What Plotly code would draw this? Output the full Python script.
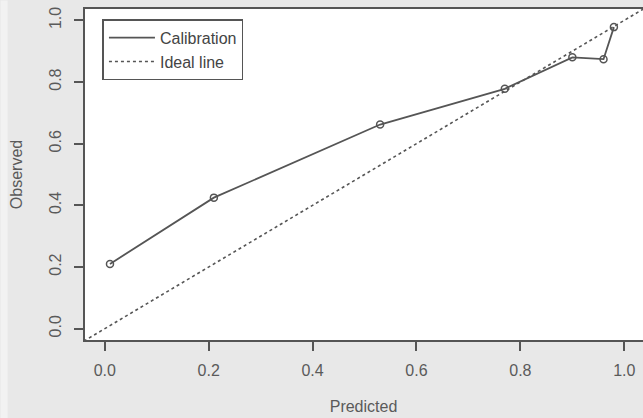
import plotly.graph_objects as go

# Calibration curve: mean predicted probability vs observed frequency per bin
predicted = [0.01, 0.21, 0.53, 0.77, 0.90, 0.96, 0.98]
observed = [0.21, 0.425, 0.662, 0.778, 0.88, 0.874, 0.978]

# Ideal (perfect calibration) line y = x, extended past the axis limits
ideal = [-0.1, 1.1]

tick_vals = [0.0, 0.2, 0.4, 0.6, 0.8, 1.0]
tick_text = ["0.0", "0.2", "0.4", "0.6", "0.8", "1.0"]

ink = "#555555"
font_family = "Liberation Sans, Arial, sans-serif"

fig = go.Figure()

fig.add_trace(go.Scatter(
    x=ideal, y=ideal, mode="lines", name="Ideal line",
    line=dict(color=ink, width=1.6, dash="dot"),
))
fig.add_trace(go.Scatter(
    x=predicted, y=observed, mode="lines", name="Calibration",
    line=dict(color=ink, width=1.8),
))
fig.add_trace(go.Scatter(
    x=predicted, y=observed, mode="markers", showlegend=False,
    marker=dict(symbol="circle-open", size=7, color=ink, line=dict(width=1.5, color=ink)),
))

axis_common = dict(
    tickvals=tick_vals, ticktext=tick_text,
    ticks="outside", ticklen=9, tickwidth=1.5, tickcolor=ink,
    showgrid=False, zeroline=False, showline=False,
    tickfont=dict(family=font_family, size=16, color="#5a5a5a"),
    title_font=dict(family=font_family, size=16, color="#5a5a5a"),
)

fig.update_layout(
    width=643, height=418,
    margin=dict(l=83.5, r=0, t=7.6, b=77),
    paper_bgcolor="#e8e8e8",
    plot_bgcolor="#ffffff",
    xaxis=dict(range=[-0.04, 1.036], title=dict(text="Predicted", standoff=22),
               ticklabelstandoff=6, **axis_common),
    yaxis=dict(range=[-0.04, 1.04], title=dict(text="Observed", standoff=19),
               tickangle=-90, ticklabelstandoff=7, **axis_common),
    legend=dict(
        x=0.033, y=0.966, xanchor="left", yanchor="top",
        bgcolor="#ffffff", bordercolor=ink, borderwidth=1.5,
        font=dict(family=font_family, size=16, color="#444444"),
        traceorder="reversed", itemwidth=46,
    ),
    shapes=[
        # plot frame (right side falls just outside the page)
        dict(type="rect", xref="paper", yref="paper", x0=0, x1=1.01, y0=0, y1=1,
             line=dict(color=ink, width=2), layer="above"),
        # lighter strip along the left edge of the page
        dict(type="rect", xref="paper", yref="paper", x0=-83.5 / 559.5, x1=-76.5 / 559.5,
             y0=-77 / 333.4, y1=1 + 7.6 / 333.4, line=dict(width=0),
             fillcolor="#f2f2f2", layer="below"),
    ],
)

fig.write_html("out.html")
